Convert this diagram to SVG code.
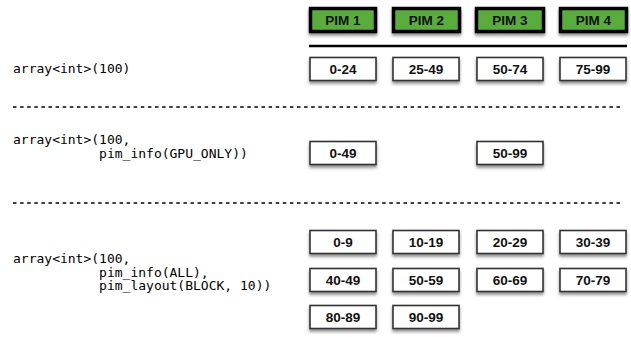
<svg xmlns="http://www.w3.org/2000/svg" width="631" height="337" viewBox="0 0 631 337">
  <defs>
    <filter id="shadow" x="-20%" y="-30%" width="140%" height="180%">
      <feDropShadow dx="0" dy="2.5" stdDeviation="1.6" flood-color="#000" flood-opacity="0.45"/>
    </filter>
  </defs>
  <style>
    .pim rect { fill: #5aad3c; stroke: #000; stroke-width: 3.5; filter: url(#shadow); }
    .cell rect { fill: #fff; stroke: #333; stroke-width: 1.6; filter: url(#shadow); }
    .label { font-family: "Liberation Sans", Arial, sans-serif; font-weight: bold; font-size: 13.5px; fill: #111; text-anchor: middle; }
    .code { font-family: "DejaVu Sans Mono", "Liberation Mono", monospace; font-size: 13px; fill: #000; }
    .sep { stroke: #000; stroke-width: 1.3; stroke-dasharray: 3.5 3.6; fill: none; }
    .rule { stroke: #000; stroke-width: 2.6; fill: none; }
  </style>

  <!-- PIM headers -->
  <g id="pim1" class="pim"><rect x="310.5" y="8.5" width="65" height="23"/><text class="label" x="343" y="25">PIM 1</text></g>
  <g id="pim2" class="pim"><rect x="393.5" y="8.5" width="66" height="23"/><text class="label" x="426.5" y="25">PIM 2</text></g>
  <g id="pim3" class="pim"><rect x="476.5" y="8.5" width="67" height="23"/><text class="label" x="510" y="25">PIM 3</text></g>
  <g id="pim4" class="pim"><rect x="560.5" y="8.5" width="66" height="23"/><text class="label" x="593.5" y="25">PIM 4</text></g>

  <!-- separators -->
  <g id="connectors">
    <line class="rule" x1="309" y1="46" x2="627" y2="46"/>
    <line class="sep" x1="13" y1="107" x2="622" y2="107"/>
    <line class="sep" x1="13" y1="203" x2="622" y2="203"/>
  </g>

  <!-- case 1 -->
  <text class="code" x="13" y="73">array&lt;int&gt;(100)</text>
  <g id="c1-0" class="cell"><rect x="310" y="57.5" width="66" height="23"/><text class="label" x="343" y="74">0-24</text></g>
  <g id="c1-1" class="cell"><rect x="393" y="57.5" width="66" height="23"/><text class="label" x="426" y="74">25-49</text></g>
  <g id="c1-2" class="cell"><rect x="477" y="57.5" width="66" height="23"/><text class="label" x="510" y="74">50-74</text></g>
  <g id="c1-3" class="cell"><rect x="560" y="57.5" width="66" height="23"/><text class="label" x="593" y="74">75-99</text></g>

  <!-- case 2 -->
  <text class="code" xml:space="preserve"><tspan x="13" y="144">array&lt;int&gt;(100,</tspan><tspan x="13" y="157.5">           pim_info(GPU_ONLY))</tspan></text>
  <g id="c2-0" class="cell"><rect x="310" y="141.5" width="66" height="23"/><text class="label" x="343" y="158">0-49</text></g>
  <g id="c2-2" class="cell"><rect x="477" y="141.5" width="66" height="23"/><text class="label" x="510" y="158">50-99</text></g>

  <!-- case 3 -->
  <text class="code" xml:space="preserve"><tspan x="13" y="263">array&lt;int&gt;(100,</tspan><tspan x="13" y="276.5">           pim_info(ALL),</tspan><tspan x="13" y="290">           pim_layout(BLOCK, 10))</tspan></text>

  <g id="c3-0" class="cell"><rect x="310" y="230.5" width="66" height="23"/><text class="label" x="343" y="247">0-9</text></g>
  <g id="c3-1" class="cell"><rect x="393" y="230.5" width="66" height="23"/><text class="label" x="426" y="247">10-19</text></g>
  <g id="c3-2" class="cell"><rect x="477" y="230.5" width="66" height="23"/><text class="label" x="510" y="247">20-29</text></g>
  <g id="c3-3" class="cell"><rect x="560" y="230.5" width="66" height="23"/><text class="label" x="593" y="247">30-39</text></g>

  <g id="c3-4" class="cell"><rect x="310" y="268.5" width="66" height="23"/><text class="label" x="343" y="285">40-49</text></g>
  <g id="c3-5" class="cell"><rect x="393" y="268.5" width="66" height="23"/><text class="label" x="426" y="285">50-59</text></g>
  <g id="c3-6" class="cell"><rect x="477" y="268.5" width="66" height="23"/><text class="label" x="510" y="285">60-69</text></g>
  <g id="c3-7" class="cell"><rect x="560" y="268.5" width="66" height="23"/><text class="label" x="593" y="285">70-79</text></g>

  <g id="c3-8" class="cell"><rect x="310" y="305.5" width="66" height="23"/><text class="label" x="343" y="322">80-89</text></g>
  <g id="c3-9" class="cell"><rect x="393" y="305.5" width="66" height="23"/><text class="label" x="426" y="322">90-99</text></g>
</svg>
